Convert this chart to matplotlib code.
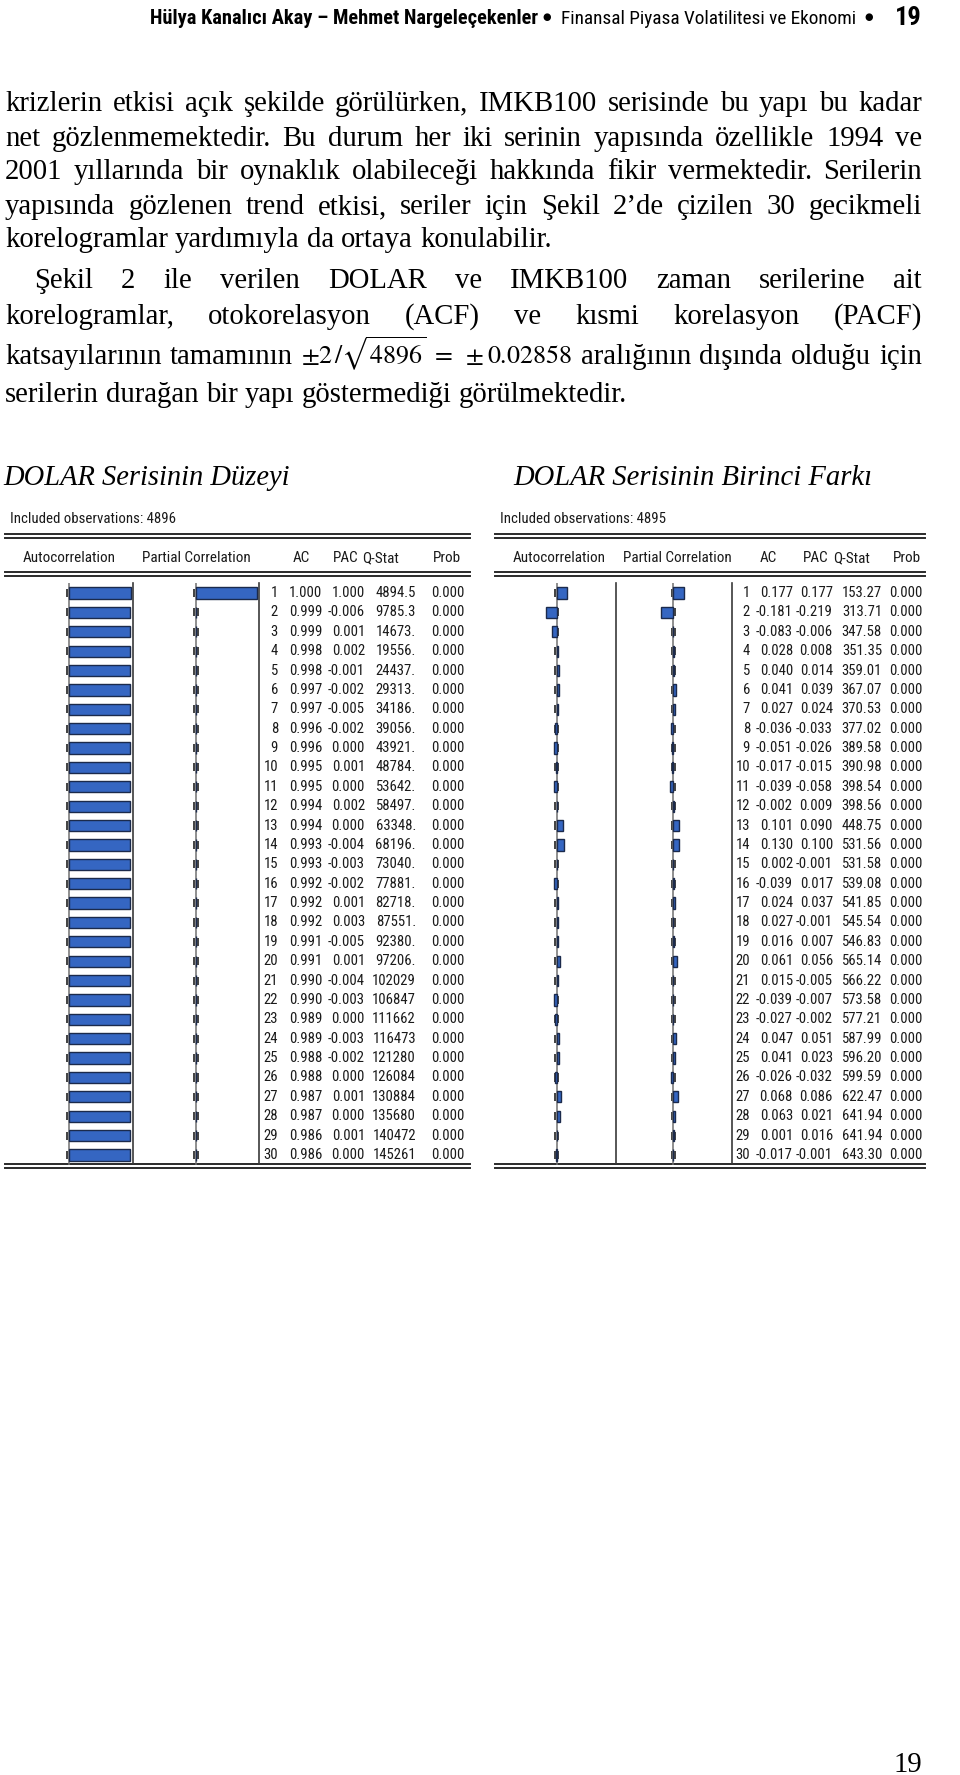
import matplotlib
matplotlib.use('Agg')
import matplotlib.pyplot as plt
import numpy as np
from matplotlib import font_manager

plt.rcParams['mathtext.fontset'] = 'stix'

# korelogram verileri (30 gecikme)
lags = list(range(1, 31))

duzey_obs = 4896
duzey_ac = [1.000, 0.999, 0.999, 0.998, 0.998, 0.997, 0.997, 0.996, 0.996, 0.995,
            0.995, 0.994, 0.994, 0.993, 0.993, 0.992, 0.992, 0.992, 0.991, 0.991,
            0.990, 0.990, 0.989, 0.989, 0.988, 0.988, 0.987, 0.987, 0.986, 0.986]
duzey_pac = [1.000, -0.006, 0.001, 0.002, -0.001, -0.002, -0.005, -0.002, 0.000, 0.001,
             0.000, 0.002, 0.000, -0.004, -0.003, -0.002, 0.001, 0.003, -0.005, 0.001,
             -0.004, -0.003, 0.000, -0.003, -0.002, 0.000, 0.001, 0.000, 0.001, 0.000]
duzey_q = [4894.5, 9785.3, 14673, 19556, 24437, 29313, 34186, 39056, 43921, 48784,
           53642, 58497, 63348, 68196, 73040, 77881, 82718, 87551, 92380, 97206,
           102029, 106847, 111662, 116473, 121280, 126084, 130884, 135680, 140472, 145261]

fark_obs = 4895
fark_ac = [0.177, -0.181, -0.083, 0.028, 0.040, 0.041, 0.027, -0.036, -0.051, -0.017,
           -0.039, -0.002, 0.101, 0.130, 0.002, -0.039, 0.024, 0.027, 0.016, 0.061,
           0.015, -0.039, -0.027, 0.047, 0.041, -0.026, 0.068, 0.063, 0.001, -0.017]
fark_pac = [0.177, -0.219, -0.006, 0.008, 0.014, 0.039, 0.024, -0.033, -0.026, -0.015,
            -0.058, 0.009, 0.090, 0.100, -0.001, 0.017, 0.037, -0.001, 0.007, 0.056,
            -0.005, -0.007, -0.002, 0.051, 0.023, -0.032, 0.086, 0.021, 0.016, -0.001]
fark_q = [153.27, 313.71, 347.58, 351.35, 359.01, 367.07, 370.53, 377.02, 389.58, 390.98,
          398.54, 398.56, 448.75, 531.56, 531.58, 539.08, 541.85, 545.54, 546.83, 565.14,
          566.22, 573.58, 577.21, 587.99, 596.20, 599.59, 622.47, 641.94, 641.94, 643.30]

prob = [0.000] * 30

col_names = ['Autocorrelation', 'Partial Correlation', 'AC', 'PAC', 'Q-Stat', 'Prob']

W, H = 960, 1775
fig = plt.figure(figsize=(W / 100, H / 100), dpi=100)
bg = fig.add_axes([0, 0, 1, 1])
bg.set_xlim(0, W)
bg.set_ylim(H, 0)
bg.axis('off')
rend = fig.canvas.get_renderer()

names = {f.name for f in font_manager.fontManager.ttflist}
narrow = 'Roboto Condensed' if 'Roboto Condensed' in names else 'Liberation Sans'
serif = 'Liberation Serif'
tfont = narrow


def wid(t):
    return t.get_window_extent(renderer=rend).width


def fit(t, target):
    t.set_fontsize(t.get_fontsize() * target / wid(t))


def box(x0, y0, x1, y1):
    return [x0 / W, 1 - y1 / H, (x1 - x0) / W, (y1 - y0) / H]


# sayfa başlığı
h1 = bg.text(150, 24, 'Hülya Kanalıcı Akay – Mehmet Nargeleçekenler', family=narrow,
             weight='bold', fontsize=12, va='baseline')
fit(h1, 388)
bg.text(547, 17, '●', family='DejaVu Sans', fontsize=7, ha='center', va='center')
h2 = bg.text(561, 24, 'Finansal Piyasa Volatilitesi ve Ekonomi', family=narrow,
             fontsize=12, va='baseline')
fit(h2, 295)
bg.text(869, 17, '●', family='DejaVu Sans', fontsize=7, ha='center', va='center')
bg.text(922, 25, '19', family=narrow, weight='bold', fontsize=19, ha='right', va='baseline')

# metin
lines = [
    ('krizlerin etkisi açık şekilde görülürken, IMKB100 serisinde bu yapı bu kadar', 5, 111, True),
    ('net gözlenmemektedir. Bu durum her iki serinin yapısında özellikle 1994 ve', 5, 146, True),
    ('2001 yıllarında bir oynaklık olabileceği hakkında fikir vermektedir. Serilerin', 5, 179, True),
    ('yapısında gözlenen trend etkisi, seriler için Şekil 2’de çizilen 30 gecikmeli', 5, 214, True),
    ('korelogramlar yardımıyla da ortaya konulabilir.', 5, 247, False),
    ('Şekil 2 ile verilen DOLAR ve IMKB100 zaman serilerine ait', 34, 288, True),
    ('korelogramlar, otokorelasyon (ACF) ve kısmi korelasyon (PACF)', 5, 324, True),
    ('katsayılarının tamamının | aralığının dışında olduğu için', 5, 364, True),
    ('serilerin durağan bir yapı göstermediği görülmektedir.', 5, 402, False),
]
formula = r'$\pm 2\,/\sqrt{4896}\ =\ \pm0.02858$'

probe = bg.text(0, 0, lines[4][0], family=serif, fontsize=16)
fit(probe, 546)
body_fs = probe.get_fontsize()
probe.remove()

for s, x0, y, just in lines:
    words = s.split(' ')
    words = [formula if w == '|' else w for w in words]
    ts = [bg.text(0, y, w, family=serif, va='baseline',
                  fontsize=body_fs * (0.9 if w == formula else 1)) for w in words]
    ws = [wid(t) for t in ts]
    if just:
        gap = (922 - x0 - sum(ws)) / (len(ws) - 1)
    else:
        gap = 0.25 * body_fs * 100 / 72
    x = x0
    for t, w in zip(ts, ws):
        t.set_x(x)
        x += w + gap

# başlıklar
t1 = bg.text(3, 485, 'DOLAR Serisinin Düzeyi', family=serif, style='italic',
             fontsize=18, va='baseline')
fit(t1, 287)
t2 = bg.text(513, 485, 'DOLAR Serisinin Birinci Farkı', family=serif, style='italic',
             fontsize=18, va='baseline')
fit(t2, 359)


def qfmt(v):
    nd = len(str(int(v)))
    dec = 5 - nd
    if dec > 0:
        return f'{v:.{dec}f}'
    if dec == 0:
        return f'{int(round(v))}.'
    return f'{int(round(v))}'


hp = bg.text(0, 0, 'Autocorrelation', family=tfont, fontsize=10)
fit(hp, 92)
head_fs = hp.get_fontsize()
hp.remove()


def draw_table(nobs, ac, pac, q, xl, xr, acf_zero, pac_zero, unit, seps,
               head_x, num_right, num_x0):
    top, bot = 583.3, 1164.7
    # çift çizgiler
    for y in (534, 538, 572, 576, 1164, 1168):
        bg.plot([xl, xr], [y, y], color='#2a2a2a', lw=1.4)
    ob = bg.text(xl + 5, 523, f'Included observations: {nobs}', family=tfont,
                 fontsize=head_fs, color='#1a1a1a', va='baseline')
    fit(ob, 166)
    for name, hx in zip(col_names, head_x):
        bg.text(hx, 562, name, family=tfont, fontsize=head_fs, color='#1a1a1a',
                va='baseline')
    for sx in seps:
        bg.plot([sx, sx], [top, bot - 2], color='#3a3a3a', lw=1.2)

    conf = 2 / np.sqrt(nobs)
    for zero, vals in ((acf_zero, ac), (pac_zero, pac)):
        ax = fig.add_axes(box(zero - unit, top, zero + unit, bot))
        ax.set_xlim(-1, 1)
        ax.set_ylim(30.5, 0.5)
        ax.axis('off')
        ax.axvline(0, color='#707070', lw=1.1, zorder=2)
        ax.vlines([-conf] * 30 + [conf] * 30, np.array(lags * 2) - 0.21,
                  np.array(lags * 2) + 0.21, colors='#333333', lw=1.3, zorder=1)
        bars = ax.barh(lags, vals, height=0.58, color='#3566c2', edgecolor='#1b2a4c',
                       lw=1.0, zorder=3)
        for b in bars:
            b.set_clip_on(False)

    nx = fig.add_axes(box(num_x0, top, xr, bot))
    nx.set_xlim(num_x0, xr)
    nx.set_ylim(30.5, 0.5)
    nx.axis('off')
    cols = [[str(l) for l in lags], [f'{v:.3f}' for v in ac], [f'{v:.3f}' for v in pac],
            [qfmt(v) for v in q], [f'{v:.3f}' for v in prob]]
    for col, rx in zip(cols, num_right):
        for lag, s in zip(lags, col):
            nx.text(rx, lag, s, family=tfont, fontsize=10.6, color='#1a1a1a',
                    ha='right', va='center')


draw_table(duzey_obs, duzey_ac, duzey_pac, duzey_q, 5, 470, 69, 196, 61.5,
           [133, 259], [23, 142, 293, 333, 362, 433],
           [278, 322, 365, 416, 465], 259)
draw_table(fark_obs, fark_ac, fark_pac, fark_q, 495, 925, 556.7, 673.3, 58,
           [615.7, 732], [513, 623, 760, 803, 833, 893],
           [750, 793, 833, 882, 923], 732)

# sayfa numarası
bg.text(922, 1772, '19', family=serif, fontsize=body_fs, ha='right', va='baseline')

fig.savefig('out.png', dpi=100)
